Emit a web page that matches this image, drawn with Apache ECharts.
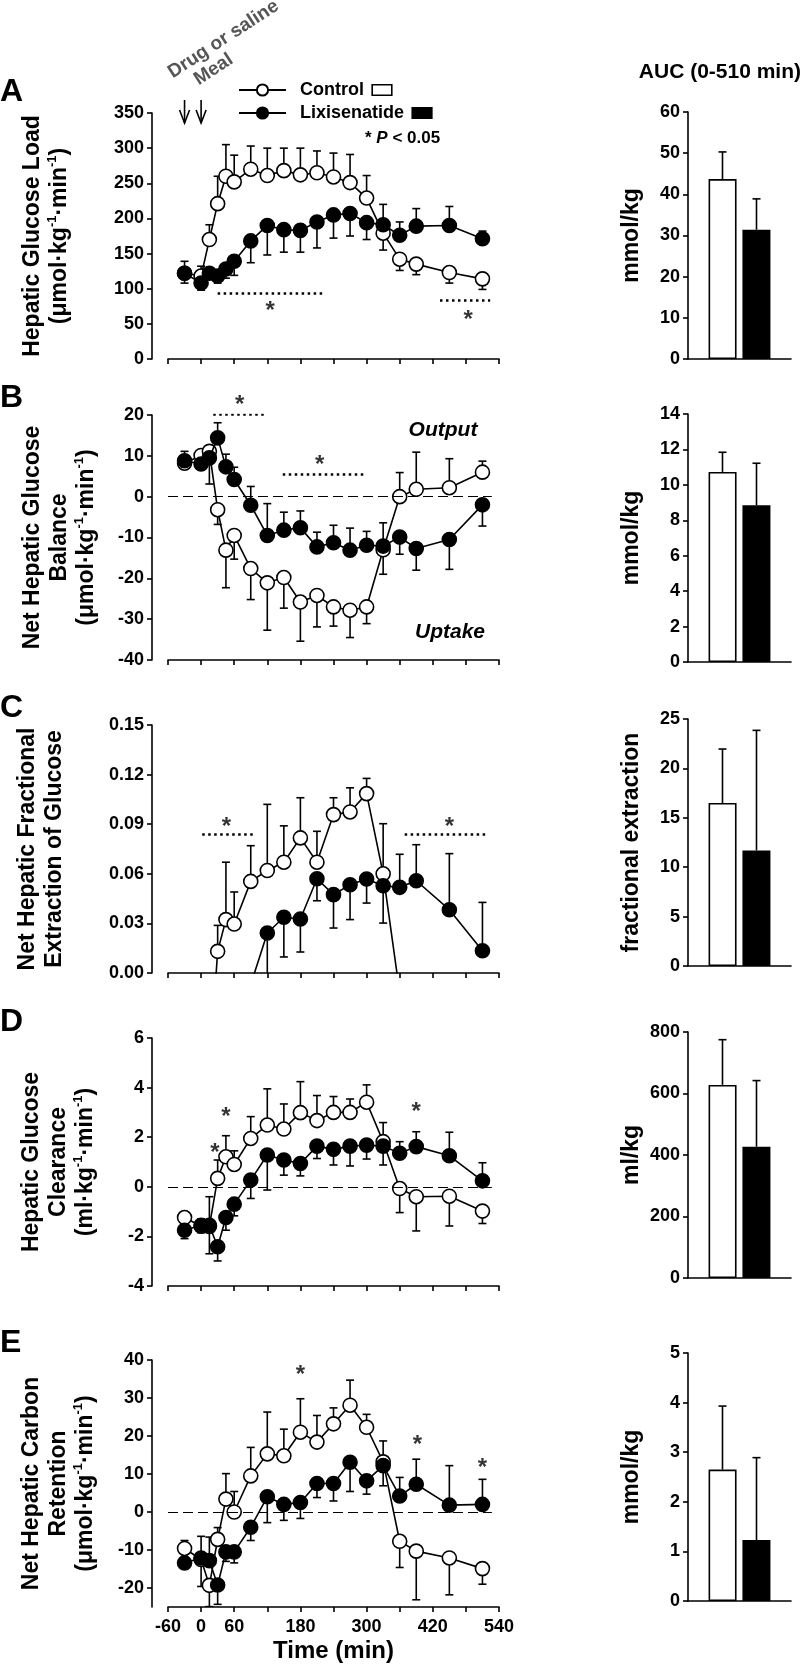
<!DOCTYPE html>
<html><head><meta charset="utf-8">
<script src="https://cdn.jsdelivr.net/npm/echarts@6/dist/echarts.min.js"></script>
<style>html,body{margin:0;padding:0;background:#fff}#c{width:802px;height:1669px}</style>
</head><body><div id="c"></div>
<script>
// ---------------- DATA ----------------
const times = [-30, 0, 15, 30, 45, 60, 90, 120, 150, 180, 210, 240, 270, 300, 330, 360, 390, 450, 510];
const xTickLabels = [-60, 0, 60, 180, 300, 420, 540];

// A: Hepatic glucose load
const ctlA = [122, 118, 170, 221, 260, 252, 270, 261, 268, 262, 265, 259, 251, 229, 179, 142, 135, 123, 114];
const ctlErrA = [17, 14, 21, 39, 45, 38, 33, 39, 32, 38, 31, 34, 40, 32, -24, -16, -15, -15, -15];
const lixA = [122, 108, 122, 118, 128, 139, 168, 190, 184, 183, 195, 205, 207, 194, 191, 176, 189, 190, 171];
const lixErrA = [-14, -10, -8, -10, -13, -20, -31, -42, -32, -31, -37, -33, -32, -24, 29, 19, 25, 27, 11];
// B: Net hepatic glucose balance
const ctlB = [8.2, 10.1, 11.1, -3.2, -13.1, -9.5, -17.6, -21.1, -19.8, -25.8, -24.2, -27.0, -27.8, -27.0, -13.0, 0, 1.8, 2.2, 6.0];
const ctlErrB = [-1, 1, -8, -3.6, -9.2, -5.8, -7.6, -11.6, -7.5, -9.6, -7.7, -4.7, -6.7, -4.1, -6.0, 5.9, 9.1, 7.1, 2.7];
const lixB = [8.8, 8.0, 9.5, 14.4, 7.3, 4.2, -2.1, -9.5, -8.2, -7.6, -12.3, -11.3, -13.1, -11.9, -12.1, -9.9, -12.7, -10.5, -2.0];
const lixErrB = [2.3, 1.5, 1.5, 3.7, 3.1, 3.0, 4.6, 7.8, 4.4, 4.1, 3.6, 4.3, 5.4, 3.4, 5.7, -4.2, -5.3, -7.3, -5.2];
// C: Net hepatic fractional extraction of glucose
const ctlC = [null, null, -0.06, 0.0131, 0.0323, 0.0296, 0.0554, 0.062, 0.067, 0.0817, 0.067, 0.0958, 0.0974, 0.1085, 0.060, -0.012, null, null, null];
const ctlErrC = [0, 0, 0, 0.0157, 0.0347, 0.0194, 0.0216, 0.040, 0.022, 0.0243, 0.0187, 0.0102, 0.0146, 0.0092, 0.0303, 0, 0, 0, 0];
const lixC = [null, null, null, null, null, null, -0.007, 0.0242, 0.0337, 0.0327, 0.057, 0.0474, 0.0534, 0.0569, 0.0528, 0.0518, 0.0558, 0.0383, 0.0135];
const lixErrC = [0, 0, 0, 0, 0, 0, 0, -0.035, -0.024, -0.020, -0.0133, -0.0202, -0.0211, -0.0146, -0.0226, 0.020, 0.0218, 0.0339, 0.0292];
// D: Hepatic glucose clearance
const ctlD = [-1.24, -1.59, -1.6, 0.34, 1.21, 0.9, 1.95, 2.49, 2.33, 2.99, 2.67, 3.0, 3.0, 3.41, 1.82, -0.07, -0.4, -0.38, -0.98];
const ctlErrD = [0, 0.3, 1.2, 0.74, 0.85, 0.55, 0.88, 1.46, 1.01, 1.25, 1.01, 0.64, 0.54, 0.70, 0.77, -0.97, -1.38, -1.2, -0.5];
const lixD = [-1.75, -1.55, -1.55, -2.42, -1.24, -0.7, 0.27, 1.28, 1.08, 0.94, 1.64, 1.51, 1.64, 1.68, 1.64, 1.35, 1.62, 1.25, 0.24];
const lixErrD = [-0.34, -0.3, -1.15, -0.57, -0.51, -0.47, -0.74, -1.41, -0.61, -0.5, -0.5, -0.63, -0.8, -0.56, -0.76, 0.47, 0.6, 0.95, 0.73];
// E: Net hepatic carbon retention
const ctlE = [-9.6, -12.5, -19.3, -7.2, 3.4, 0, 9.5, 15.3, 14.8, 21.0, 18.4, 23.2, 28.1, 22.3, 13.2, -7.7, -10.3, -12.1, -14.9];
const ctlErrE = [2.1, 6.1, -5.6, 3.1, 6.7, 5.4, 7.5, 11, 7, 8.8, 7, 4.2, 6.6, 3.4, -6.3, -6.9, -12.8, -9.7, -4.1];
const lixE = [-13.4, -12.1, -12.8, -19.2, -10.5, -10.5, -4.0, 4.0, 2.0, 2.5, 7.5, 7.5, 13.1, 8.2, 12.2, 4.2, 7.3, 1.8, 2.0];
const lixErrE = [-1.5, -7.5, 6.2, -5.1, -2.5, -2.9, -3.5, -6.8, -4.2, -4.2, -3.7, -4.6, -7.7, -3.5, 6.5, 4.9, 6.6, 10.4, 6.6];

// AUC (0-510 min) bars, panels A..E
const aucCtl = [43.7, 10.73, 16.5, 628, 2.65];
const aucCtlErr = [6.6, 1.11, 5.46, 147, 1.28];
const aucLix = [31.4, 8.85, 11.7, 427, 1.23];
const aucLixErr = [7.5, 2.37, 12.15, 215, 1.66];

// significance annotations (data coordinates)
const sigLines = [
  [[[30, 93], [220, 93]], [[433, 83], [524, 83]]],
  [[[22, 20.1], [116, 20.1]], [[148, 5.5], [296, 5.5]]],
  [[[2, 0.084], [95, 0.084]], [[369, 0.084], [518, 0.084]]],
  [],
  []
];
const sigStars = [
  [[125, 75], [484, 62]],
  [[70, 23.6], [215, 8.9]],
  [[46, 0.091], [450, 0.091]],
  [[25, 1.55], [45, 2.99], [390, 3.19]],
  [[180, 37.3], [392, 18.8], [510, 12.8]]
];
const drugTimes = [-30, 0];

// axes setup
const yRanges = [
  { min: 0, max: 350, interval: 50 },
  { min: -40, max: 20, interval: 10 },
  { min: 0, max: 0.15, interval: 0.03, dec: 2 },
  { min: -4, max: 6, interval: 2 },
  { min: -25, max: 40, ticks: [-20, -10, 0, 10, 20, 30, 40] }
];
const barRanges = [
  { min: 0, max: 60, interval: 10 },
  { min: 0, max: 14, interval: 2 },
  { min: 0, max: 25, interval: 5 },
  { min: 0, max: 800, interval: 200 },
  { min: 0, max: 5, interval: 1 }
];
const UMOL = '{t|(μmol·kg}{s|-1}{t|·min}{s|-1}{t|)}';
const ML = '{t|(ml·kg}{s|-1}{t|·min}{s|-1}{t|)}';
const yNames = [
  ['Hepatic Glucose Load', UMOL],
  ['Net Hepatic Glucose', 'Balance', UMOL],
  ['Net Hepatic Fractional', 'Extraction of Glucose'],
  ['Hepatic Glucose', 'Clearance', ML],
  ['Net Hepatic Carbon', 'Retention', UMOL]
];
const barNames = ['mmol/kg', 'mmol/kg', 'fractional extraction', 'ml/kg', 'mmol/kg'];
const panelLetters = ['A', 'B', 'C', 'D', 'E'];
const zeroLinePanels = [1, 3, 4];

// ---------------- LAYOUT ----------------
const FONT = '"Liberation Sans", Arial, Helvetica, sans-serif';
const lineGrids = [[113, 246], [415, 245], [725, 248], [1038, 248], [1360, 247]];
const barGrids = [[112, 247], [414, 248], [719, 247], [1032, 246], [1353, 248]];
const nameGaps = [79, 52, 84, 53, 53];
const letterY = [92, 398, 708, 1022, 1343];
const BAR_W = 28, BAR_OFF = 17;

const ctlAll = [ctlA, ctlB, ctlC, ctlD, ctlE];
const ctlErrAll = [ctlErrA, ctlErrB, ctlErrC, ctlErrD, ctlErrE];
const lixAll = [lixA, lixB, lixC, lixD, lixE];
const lixErrAll = [lixErrA, lixErrB, lixErrC, lixErrD, lixErrE];

const richName = {
  t: { fontSize: 23, fontWeight: 'bold', fontFamily: FONT, color: '#000', lineHeight: 27 },
  s: { fontSize: 13, fontWeight: 'bold', fontFamily: FONT, color: '#000', lineHeight: 14, verticalAlign: 'top' }
};

function errRender(params, api) {
  const t = api.value(0), v = api.value(1), e = api.value(2);
  const p0 = api.coord([t, v]), p1 = api.coord([t, v + e]);
  const cap = 4;
  const st = { stroke: '#000', lineWidth: 1.6 };
  return { type: 'group', children: [
    { type: 'line', shape: { x1: p0[0], y1: p0[1], x2: p1[0], y2: p1[1] }, style: st },
    { type: 'line', shape: { x1: p1[0] - cap, y1: p1[1], x2: p1[0] + cap, y2: p1[1] }, style: st }
  ]};
}
function barErrRender(dx) {
  return function (params, api) {
    const v = api.value(1), e = api.value(2);
    const p0 = api.coord([0, v]), p1 = api.coord([0, v + e]);
    const x = p0[0] + dx, cap = 4;
    const st = { stroke: '#000', lineWidth: 1.6 };
    return { type: 'group', children: [
      { type: 'line', shape: { x1: x, y1: p0[1], x2: x, y2: p1[1] }, style: st },
      { type: 'line', shape: { x1: x - cap, y1: p1[1], x2: x + cap, y2: p1[1] }, style: st }
    ]};
  };
}

const grid = [], xAxis = [], yAxis = [], series = [];
const axisLine = { show: true, onZero: false, lineStyle: { color: '#000', width: 1.6 } };
const axisTick = { show: true, length: 5, lineStyle: { color: '#000', width: 1.6 } };
const labelStyle = { color: '#000', fontSize: 18, fontWeight: 'bold', fontFamily: FONT };

for (let i = 0; i < 5; i++) {
  grid.push({ left: 168, width: 331, top: lineGrids[i][0], height: lineGrids[i][1] });
  const isLast = i === 4;
  xAxis.push({
    gridIndex: i, type: 'value', min: -60, max: 540, interval: 60,
    axisLine, axisTick, splitLine: { show: false },
    axisLabel: Object.assign({ show: isLast, margin: 11,
      formatter: v => xTickLabels.includes(v) ? String(v) : '' }, labelStyle),
    name: isLast ? 'Time (min)' : '', nameLocation: 'middle', nameGap: 32,
    nameTextStyle: { fontSize: 24, fontWeight: 'bold', color: '#000', fontFamily: FONT }
  });
  const r = yRanges[i];
  const ya = {
    gridIndex: i, type: 'value', min: r.min, max: r.max, offset: 16,
    axisLine, splitLine: { show: false },
    axisTick: Object.assign({}, axisTick),
    axisLabel: Object.assign({ margin: 8, formatter: v => r.dec ? v.toFixed(r.dec) : String(v) }, labelStyle),
    name: yNames[i].map(l => l.startsWith('{') ? l : '{t|' + l + '}').join('\n'),
    nameLocation: 'middle', nameRotate: 90, nameGap: nameGaps[i],
    nameTextStyle: { rich: richName }
  };
  if (r.interval) ya.interval = r.interval;
  if (r.ticks) { ya.axisTick.customValues = r.ticks; ya.axisLabel.customValues = r.ticks; }
  yAxis.push(ya);
}
for (let i = 0; i < 5; i++) {
  grid.push({ left: 688, width: 103, top: barGrids[i][0], height: barGrids[i][1] });
  xAxis.push({ gridIndex: 5 + i, type: 'category', data: ['AUC (0-510 min)'],
    axisLine: { show: true, lineStyle: { color: '#000', width: 1.6 } },
    axisTick: { show: false }, axisLabel: { show: false } });
  const r = barRanges[i];
  yAxis.push({ gridIndex: 5 + i, type: 'value', min: r.min, max: r.max, interval: r.interval,
    axisLine, axisTick, splitLine: { show: false },
    axisLabel: Object.assign({ margin: 8 }, labelStyle),
    name: barNames[i], nameLocation: 'middle', nameRotate: 90, nameGap: 45,
    nameTextStyle: { fontSize: 23, fontWeight: 'bold', color: '#000', fontFamily: FONT } });
}

// line series first (legend icon comes from these)
for (let i = 0; i < 5; i++) {
  const mk = (name, vals, fill, z) => ({
    name, type: 'line', xAxisIndex: i, yAxisIndex: i, z,
    data: times.map((t, k) => vals[k] == null ? [t, '-'] : [t, vals[k]]),
    symbol: 'circle', symbolSize: 14, showSymbol: true, clip: true, connectNulls: false,
    lineStyle: { color: '#000', width: 1.6 },
    itemStyle: { color: fill, borderColor: '#000', borderWidth: 1.6 },
    emphasis: { disabled: true }, animation: false
  });
  series.push(mk('Control', ctlAll[i], '#fff', 4));
  series.push(mk('Lixisenatide', lixAll[i], '#000', 5));
  const mkErr = (name, vals, errs) => ({
    name, type: 'custom', xAxisIndex: i, yAxisIndex: i, z: 2, clip: true,
    renderItem: errRender, silent: true,
    data: times.map((t, k) => [t, vals[k], errs[k]]).filter(d => d[1] != null && d[2] !== 0)
  });
  series.push(mkErr('ctlErr' + i, ctlAll[i], ctlErrAll[i]));
  series.push(mkErr('lixErr' + i, lixAll[i], lixErrAll[i]));
  if (zeroLinePanels.includes(i)) {
    series.push({ name: 'zero' + i, type: 'line', xAxisIndex: i, yAxisIndex: i, data: [], z: 1,
      markLine: { silent: true, symbol: ['none', 'none'], label: { show: false }, animation: false,
        lineStyle: { color: '#000', type: [10, 5], width: 1.2 },
        data: [[{ coord: [-60, 0] }, { coord: [527, 0] }]] } });
  }
  if (sigLines[i].length) {
    series.push({ name: 'sig' + i, type: 'lines', coordinateSystem: 'cartesian2d', xAxisIndex: i, yAxisIndex: i,
      silent: true, z: 1, lineStyle: { color: '#000', width: 2.5, type: [2.5, 3.5], opacity: 1 },
      data: sigLines[i].map(c => ({ coords: c })) });
  }
  series.push({ name: 'star' + i, type: 'scatter', xAxisIndex: i, yAxisIndex: i, silent: true, z: 6, clip: false,
    data: sigStars[i], symbolSize: 1, itemStyle: { color: 'rgba(0,0,0,0)' },
    label: { show: true, position: 'inside', formatter: '*', fontSize: 24, fontWeight: 'bold',
      color: '#000', fontFamily: FONT, offset: [0, 5] } });
}
for (let i = 0; i < 5; i++) {
  const gi = 5 + i;
  series.push({ name: 'Control', type: 'bar', xAxisIndex: gi, yAxisIndex: gi, data: [aucCtl[i]],
    barWidth: BAR_W, barGap: '21%', z: 2, animation: false,
    itemStyle: { color: '#fff', borderColor: '#000', borderWidth: 1.6 } });
  series.push({ name: 'Lixisenatide', type: 'bar', xAxisIndex: gi, yAxisIndex: gi, data: [aucLix[i]],
    barWidth: BAR_W, barGap: '21%', z: 2, animation: false,
    itemStyle: { color: '#000', borderColor: '#000', borderWidth: 1.6 } });
  series.push({ name: 'aucCtlErr' + i, type: 'custom', xAxisIndex: gi, yAxisIndex: gi, z: 3, silent: true,
    renderItem: barErrRender(-BAR_OFF), data: [[0, aucCtl[i], aucCtlErr[i]]] });
  series.push({ name: 'aucLixErr' + i, type: 'custom', xAxisIndex: gi, yAxisIndex: gi, z: 3, silent: true,
    renderItem: barErrRender(BAR_OFF), data: [[0, aucLix[i], aucLixErr[i]]] });
}

const option = {
  animation: false,
  backgroundColor: '#fff',
  textStyle: { fontFamily: FONT },
  grid, xAxis, yAxis, series,
  legend: {
    data: ['Control', 'Lixisenatide'], orient: 'vertical', left: 233, top: 76,
    itemWidth: 47, itemHeight: 14, itemGap: 5, selectedMode: false,
    formatter: n => '{n|\u2002' + n + '\u2002}' + (n === 'Control' ? '{cb|\u2002}' : '{lb|\u2002}'),
    textStyle: { fontSize: 18, fontWeight: 'bold', color: '#000', fontFamily: FONT,
      rich: {
        n: { fontSize: 18, fontWeight: 'bold', color: '#000', fontFamily: FONT },
        cb: { width: 18, height: 9, borderColor: '#000', borderWidth: 1.6, backgroundColor: '#fff' },
        lb: { width: 18, height: 9, borderColor: '#000', borderWidth: 1.6, backgroundColor: '#000' }
      } }
  }
};

const chart = echarts.init(document.getElementById('c'));
chart.setOption(option);

// annotations
const graphic = [];
panelLetters.forEach((L, i) => graphic.push({ type: 'text', x: 0, y: letterY[i],
  style: { text: L, font: 'bold 32px ' + FONT, fill: '#000', textAlign: 'left', textVerticalAlign: 'middle' } }));
graphic.push({ type: 'text', x: 801, y: 72,
  style: { text: 'AUC (0-510 min)', font: 'bold 21px ' + FONT, fill: '#000', textAlign: 'right', textVerticalAlign: 'middle' } });
graphic.push({ type: 'text', x: 365, y: 138,
  style: { text: '{b|* }{i|P}{b| < 0.05}', textVerticalAlign: 'middle',
    rich: { b: { font: 'bold 17px ' + FONT, fill: '#000' }, i: { font: 'italic bold 17px ' + FONT, fill: '#000' } } } });
graphic.push({ type: 'text', x: 443, y: 430,
  style: { text: 'Output', font: 'italic bold 21px ' + FONT, fill: '#000', textAlign: 'center', textVerticalAlign: 'middle' } });
graphic.push({ type: 'text', x: 450, y: 632,
  style: { text: 'Uptake', font: 'italic bold 21px ' + FONT, fill: '#000', textAlign: 'center', textVerticalAlign: 'middle' } });
const rot = 33 * Math.PI / 180;
graphic.push({ type: 'text', x: 175, y: 82, rotation: rot, originX: 0, originY: 0,
  style: { text: 'Drug or saline', font: 'bold 19px ' + FONT, fill: '#555', textAlign: 'left', textVerticalAlign: 'bottom' } });
graphic.push({ type: 'text', x: 201, y: 89, rotation: rot, originX: 0, originY: 0,
  style: { text: 'Meal', font: 'bold 19px ' + FONT, fill: '#555', textAlign: 'left', textVerticalAlign: 'bottom' } });
drugTimes.forEach(t => {
  const x = chart.convertToPixel({ xAxisIndex: 0, yAxisIndex: 0 }, [t, 0])[0];
  graphic.push({ type: 'polyline', shape: { points: [[x, 100], [x, 123]] }, style: { stroke: '#000', lineWidth: 1.6, fill: null } });
  graphic.push({ type: 'polyline', shape: { points: [[x - 5, 110], [x, 123], [x + 5, 110]] }, style: { stroke: '#000', lineWidth: 1.6, fill: null } });
});
chart.setOption({ graphic });
</script>
</body></html>
